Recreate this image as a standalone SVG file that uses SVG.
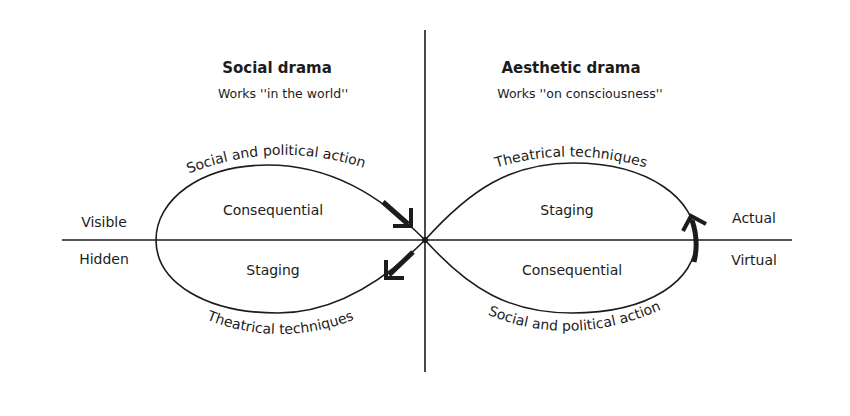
<svg xmlns="http://www.w3.org/2000/svg" width="850" height="416" viewBox="0 0 850 416">
<defs>
<style>
.t{font-family:"DejaVu Sans","Liberation Sans",sans-serif;fill:#1c1c1c}
.h{font-size:15px;font-weight:bold;text-anchor:middle}
.s{font-size:12.5px;text-anchor:middle}
.l{font-size:14px;text-anchor:middle}
.c{font-size:14px}
.ln{fill:none;stroke:#1c1c1c;stroke-width:1.6}
.ar{fill:none;stroke:#1c1c1c;stroke-width:5;stroke-linecap:butt}
.hd{fill:none;stroke:#1c1c1c;stroke-width:4;stroke-linejoin:miter}
</style>
<path id="p1" d="M183,176 Q275,137 370,170"/>
<path id="p2" d="M203,318 Q280,350 358,318"/>
<path id="p3" d="M495,168 Q570,145 647,168"/>
<path id="p4" d="M482,312 Q570,352 667,307"/>
</defs>
<rect width="850" height="416" fill="#ffffff"/>
<g id="axes">
<line class="ln" x1="425" y1="30" x2="425" y2="372"/>
<line class="ln" x1="62" y1="240" x2="792" y2="240"/>
<circle cx="425" cy="240" r="3" fill="#1c1c1c"/>
</g>
<g id="connectors">
<path id="loop-left" class="ln" d="M425,240 C380,195 330,165 268,165 C200,165 156,200 156,240 C156,282 205,313 278,313 C335,313 385,280 425,240"/>
<path id="loop-right" class="ln" d="M425,240 C470,190 510,163 573,163 C650,163 696,200 696,240 C696,280 650,313 572,313 C510,313 470,290 425,240"/>
<line class="ar" x1="383" y1="202" x2="408" y2="224"/>
<polyline class="hd" points="393,226 411,226 411,208"/>
<line class="ar" x1="413" y1="252" x2="389" y2="275"/>
<polyline class="hd" points="386,260 386,278 404,278"/>
<path class="ar" d="M694,262 C697,250 697,235 692,220"/>
<polyline class="hd" points="683,231 691,216 706,224"/>
</g>
<g id="social-drama">
<text class="t h" x="277" y="73">Social drama</text>
<text class="t s" x="283" y="98">Works ''in the world''</text>
</g>
<g id="aesthetic-drama">
<text class="t h" x="571" y="73">Aesthetic drama</text>
<text class="t s" x="580" y="98">Works ''on consciousness''</text>
</g>
<g id="axis-labels">
<text class="t l" x="104" y="227">Visible</text>
<text class="t l" x="104" y="264">Hidden</text>
<text class="t l" x="754" y="223">Actual</text>
<text class="t l" x="754" y="265">Virtual</text>
</g>
<g id="left-loop-labels">
<text class="t l" x="273" y="215">Consequential</text>
<text class="t l" x="273" y="275">Staging</text>
<text class="t c"><textPath href="#p1" startOffset="50%" text-anchor="middle">Social and political action</textPath></text>
<text class="t c"><textPath href="#p2" startOffset="50%" text-anchor="middle">Theatrical techniques</textPath></text>
</g>
<g id="right-loop-labels">
<text class="t l" x="567" y="215">Staging</text>
<text class="t l" x="572" y="275">Consequential</text>
<text class="t c"><textPath href="#p3" startOffset="50%" text-anchor="middle">Theatrical techniques</textPath></text>
<text class="t c"><textPath href="#p4" startOffset="50%" text-anchor="middle">Social and political action</textPath></text>
</g>
</svg>
